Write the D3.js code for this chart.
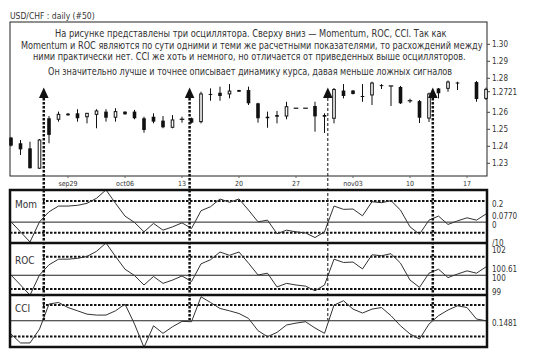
<!DOCTYPE html>
<html><head><meta charset="utf-8">
<script src="https://cdn.jsdelivr.net/npm/d3@7"></script>
<style>
body{margin:0;background:#fff}
svg{display:block}
text{font-family:"DejaVu Sans Condensed","Liberation Sans Narrow","Open Sans",sans-serif;font-stretch:condensed;fill:#333}
</style>
</head><body>
<svg id="c" width="550" height="354"></svg>
<script>
// ---------- DATA ----------
const title = "USD/CHF : daily  (#50)";
const noteLines = [
  "На рисунке представлены три осциллятора. Сверху вниз — Momentum, ROC, CCI.  Так как",
  "Momentum и ROC являются по сути одними и теми же расчетными показателями, то расхождений между",
  "ними практически нет. CCI же хоть и немного, но отличается от приведенных выше осцилляторов.",
  "Он значительно лучше и точнее описывает динамику курса, давая меньше ложных сигналов"
];
const dateTickIdx = [6, 12, 18, 24, 30, 36, 42, 48];
const dateTickLabels = ["sep29", "oct06", "13", "20", "27", "nov03", "10", "17"];
const priceTicks = [1.30, 1.29, 1.28, 1.26, 1.25, 1.24, 1.23];
const lastPrice = 1.2721;

const open  = [1.2451,1.2418,1.2388,1.2271,1.2565,1.2559,1.2592,1.2594,1.2574,1.2588,1.2604,1.2571,1.2604,1.2604,1.2565,1.2574,1.2551,1.2512,1.2559,1.2565,1.2545,1.2708,1.2715,1.2708,1.2731,1.2731,1.2653,1.2574,1.2584,1.2578,1.2624,1.2624,1.2637,1.2584,1.2565,1.2728,1.2728,1.2696,1.2702,1.2760,1.2755,1.2749,1.2668,1.2666,1.2566,1.2740,1.2741,1.2775,null,1.2778,1.2682];
const high  = [1.2455,1.2437,1.2427,1.2443,1.2578,1.2604,1.2596,1.2618,1.2596,1.2618,1.2618,1.2624,1.2605,1.2614,1.2574,1.2594,1.2578,1.2584,1.2574,1.2569,1.2721,1.2741,1.2751,1.2766,1.2732,1.2751,1.2656,1.2604,1.2608,1.2662,1.2624,1.2624,1.2662,1.2594,1.2743,1.2766,1.2731,1.2766,1.2780,1.2766,1.2755,1.2755,1.2680,1.2672,1.2716,1.2743,1.2787,1.2780,null,1.2784,1.2745];
const low   = [1.2399,1.2349,1.2270,1.2268,1.2418,1.2545,1.2581,1.2545,1.2535,1.2506,1.2545,1.2545,1.2587,1.2559,1.2480,1.2535,1.2506,1.2506,1.2539,1.2534,1.2535,1.2668,1.2668,1.2682,1.2720,1.2643,1.2539,1.2509,1.2535,1.2559,1.2624,1.2624,1.2486,1.2478,1.2535,1.2682,1.2705,1.2662,1.2643,1.2737,1.2637,1.2649,1.2655,1.2537,1.2543,1.2682,1.2721,1.2731,null,1.2662,1.2672];
const close = [1.2404,1.2382,1.2271,1.2437,1.2467,1.2588,1.2582,1.2565,1.2594,1.2608,1.2568,1.2604,1.2588,1.2565,1.2496,1.2545,1.2512,1.2555,1.2559,1.2539,1.2708,1.2703,1.2696,1.2725,1.2721,1.2653,1.2565,1.2565,1.2574,1.2633,1.2624,1.2624,1.2576,1.2574,1.2734,1.2696,1.2708,1.2690,1.2772,1.2755,1.2755,1.2653,1.2668,1.2568,1.2708,1.2712,1.2778,1.2772,null,1.2678,1.2735];

const mom = [0.003,-0.092,-0.188,0.003,0.098,0.152,0.152,0.159,0.178,0.226,0.305,0.178,0.057,-0.003,-0.092,-0.012,-0.076,-0.045,-0.007,-0.06,0.108,0.146,0.219,0.188,0.219,0.114,0.003,0.019,-0.11,-0.076,-0.092,-0.102,-0.146,-0.092,0.152,0.121,0.124,0.06,0.193,0.184,0.203,0.114,-0.045,-0.114,0.019,0.057,-0.022,0.012,0.041,0.019,0.077];
const roc = [100.02,99.29,98.55,100.02,100.76,101.17,101.17,101.23,101.37,101.74,102.35,101.37,100.44,99.98,99.29,99.91,99.41,99.65,99.95,99.54,100.83,101.13,101.69,101.45,101.69,100.88,100.02,100.15,99.15,99.41,99.29,99.21,98.87,99.29,101.17,100.93,100.96,100.46,101.49,101.42,101.57,100.88,99.65,99.12,100.15,100.44,99.83,100.09,100.32,100.15,100.61];
const cci = [-84,-141,-141,-53,106,116,84,63,42,36,36,63,106,-21,-169,-32,-80,-38,-4,-6,152,116,78,63,46,15,-63,-101,-74,-27,-15,-6,-46,-80,99,127,74,49,74,84,32,-32,-84,-116,-21,32,68,95,84,11,0.1481];

const momLevels = [0.2, -0.1], momZero = 0;
const rocLevels = [101.35, 99], rocZero = 100;
const cciLevels = [100, -100], cciZero = 0;
const momLabelText = ["0.2", "0.0770", "0"], momLabelVal = [0.2, 0.077, 0];
const rocLabelText = ["/10", "102", "100.61", "100", "99"], rocLabelVal = [102.55, 102, 100.61, 100, 99];
const cciLabelText = ["0.1481"], cciLabelVal = [0.1481];

const signals = [3.45, 18.8, 33.35, 44.4];

// ---------- DRAWING ----------
const svg = d3.select("#c");
const L = 10, R = 487;
const x = d3.scaleLinear().domain([0, 50]).range([11, 486]);
const yP = d3.scaleLinear().domain([1.23, 1.30]).range([163.3, 44.3]);
const panels = [
  {name: "Mom", top: 190, bot: 243, data: mom, y: d3.scaleLinear().domain([-0.1, 0.2]).range([232.7, 201]), levels: momLevels, zero: momZero, lt: momLabelText, lv: momLabelVal, labY: 208},
  {name: "ROC", top: 243, bot: 295, data: roc, y: d3.scaleLinear().domain([99, 101.35]).range([289, 256.7]), levels: rocLevels, zero: rocZero, lt: rocLabelText, lv: rocLabelVal, labY: 264},
  {name: "CCI", top: 295, bot: 347, data: cci, y: d3.scaleLinear().domain([-100, 100]).range([336.5, 305]), levels: cciLevels, zero: cciZero, lt: cciLabelText, lv: cciLabelVal, labY: 312}
];

// title
svg.append("text").attr("x", 10).attr("y", 18.5).attr("font-size", 8.5).attr("fill", "#444").text(title);

// price panel frame
svg.append("rect").attr("x", L).attr("y", 22).attr("width", R - L).attr("height", 176 - 22)
  .attr("fill", "none").attr("stroke", "#222").attr("stroke-width", 1);

// note text, horizontally scaled to the reference line widths
const noteStart = [55, 21, 33, 48], noteWidth = [392, 462, 433, 405], noteBase = [37, 48.5, 60, 75];
noteLines.forEach((t, i) => {
  const el = svg.append("text").attr("x", 0).attr("y", 0).attr("font-size", 11).attr("fill", "#222").text(t);
  const w = el.node().getComputedTextLength();
  el.attr("transform", `translate(${noteStart[i]},${noteBase[i]}) scale(${noteWidth[i] / w},1)`);
});

// price axis labels
const pa = svg.append("g");
priceTicks.concat([lastPrice]).forEach(p => {
  pa.append("line").attr("x1", R).attr("x2", R + 3).attr("y1", yP(p)).attr("y2", yP(p)).attr("stroke", "#444");
  pa.append("text").attr("x", 492).attr("y", yP(p) + 3).attr("font-size", 8).attr("fill", "#444")
    .text(p === lastPrice ? p.toFixed(4) : p.toFixed(2));
});

// date labels
dateTickIdx.forEach((i, k) => {
  svg.append("line").attr("x1", x(i)).attr("x2", x(i)).attr("y1", 176).attr("y2", 178).attr("stroke", "#666");
  svg.append("text").attr("x", x(i)).attr("y", 185.5).attr("text-anchor", "middle").attr("font-size", 7).attr("fill", "#555").text(dateTickLabels[k]);
});

// candles
const cg = svg.append("g");
const bw = 3.6;
open.forEach((o, i) => {
  if (o === null) return;
  const c = close[i], h = high[i], l = low[i], cx = x(i);
  if (h > Math.max(o, c) || l < Math.min(o, c))
    cg.append("line").attr("x1", cx).attr("x2", cx).attr("y1", yP(h)).attr("y2", yP(l)).attr("stroke", "#111").attr("stroke-width", 1);
  const top = yP(Math.max(o, c)), bh = Math.max(1, yP(Math.min(o, c)) - top);
  if (c < o) {
    cg.append("rect").attr("x", cx - bw / 2).attr("y", top).attr("width", bw).attr("height", bh).attr("fill", "#111");
  } else if (c > o) {
    cg.append("rect").attr("x", cx - bw / 2 + 0.5).attr("y", top).attr("width", bw - 1).attr("height", bh).attr("fill", "#fff").attr("stroke", "#111").attr("stroke-width", 1);
  } else {
    cg.append("line").attr("x1", cx - bw / 2 - 0.5).attr("x2", cx + bw / 2 + 0.5).attr("y1", top).attr("y2", top).attr("stroke", "#111").attr("stroke-width", 1.2);
  }
});

// indicator panels
panels.forEach((p, k) => {
  const g = svg.append("g");
  const cid = "clip" + k;
  svg.append("clipPath").attr("id", cid).append("rect").attr("x", L).attr("y", p.top).attr("width", R - L).attr("height", p.bot - p.top);
  g.append("line").attr("x1", L).attr("x2", R).attr("y1", p.y(p.zero)).attr("y2", p.y(p.zero)).attr("stroke", "#222").attr("stroke-width", 1);
  p.levels.forEach(v => {
    g.append("line").attr("x1", L).attr("x2", R).attr("y1", p.y(v)).attr("y2", p.y(v))
      .attr("stroke", "#111").attr("stroke-width", 2).attr("stroke-dasharray", "2.5,1.5");
  });
  // white box behind the panel name
  g.append("rect").attr("x", L + 1).attr("y", p.top + 3).attr("width", 32).attr("height", 17).attr("fill", "#fff");
  g.append("path").datum(p.data).attr("clip-path", `url(#${cid})`)
    .attr("d", d3.line().x((d, i) => x(i)).y(d => p.y(d)))
    .attr("fill", "none").attr("stroke", "#333").attr("stroke-width", 1);
  g.append("text").attr("x", 15).attr("y", p.labY).attr("font-size", 10).attr("fill", "#333").text(p.name);
  p.lt.forEach((t, j) => {
    g.append("text").attr("x", 492).attr("y", p.y(p.lv[j]) + 5.5).attr("font-size", 8).attr("fill", "#333").text(t);
  });
});

// signal arrows and vertical dotted lines
signals.forEach((s, i) => {
  const sx = x(s), thin = (i === 2);
  svg.append("line").attr("x1", sx).attr("x2", sx).attr("y1", 98).attr("y2", 320)
    .attr("stroke", "#111").attr("stroke-width", thin ? 1 : 2.5).attr("stroke-dasharray", thin ? "3,2" : "2.5,1.5");
  svg.append("path").attr("d", `M${sx},87.5 L${sx - 4.8},98 L${sx + 4.8},98 Z`).attr("fill", "#111");
});

// panel frames (on top)
const fr = svg.append("g");
fr.append("rect").attr("x", L).attr("y", 190).attr("width", R - L).attr("height", 347 - 190)
  .attr("fill", "none").attr("stroke", "#111").attr("stroke-width", 2.5);
[243, 295].forEach(yy => fr.append("line").attr("x1", L).attr("x2", R).attr("y1", yy).attr("y2", yy).attr("stroke", "#111").attr("stroke-width", 2.5));
</script>
</body></html>
